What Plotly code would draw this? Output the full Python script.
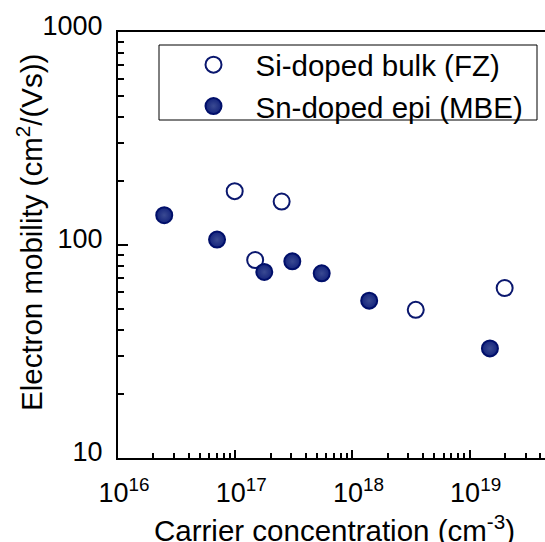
import plotly.graph_objects as go

# Data
si_bulk_conc = [9.9e16, 2.49e17, 1.48e17, 3.47e18, 1.99e19]
si_bulk_mob = [179, 160, 85, 49.6, 62.8]
sn_epi_conc = [2.48e16, 7.0e16, 1.77e17, 3.07e17, 5.47e17, 1.39e18, 1.49e19]
sn_epi_mob = [138, 106, 74.7, 83.8, 73.6, 54.8, 32.7]

x_major = [1e16, 1e17, 1e18, 1e19]
x_major_text = ["10<sup>16</sup>", "10<sup>17</sup>", "10<sup>18</sup>", "10<sup>19</sup>"]
y_major = [10, 100, 1000]
y_major_text = ["10", "100", "1000"]

x_minor = [float(k) * 10.0 ** e for e in range(16, 20) for k in range(2, 10)]
y_minor = [float(k) * 10.0 ** e for e in range(1, 3) for k in range(2, 10)]

FONT = "Liberation Sans, Arial, Helvetica, sans-serif"
NAVY = "#0a176e"

fig = go.Figure()
fig.add_trace(go.Scatter(
    x=si_bulk_conc, y=si_bulk_mob, mode="markers", name="Si-doped bulk (FZ)",
    marker=dict(size=16, color="white", line=dict(color=NAVY, width=2)),
))
fig.add_trace(go.Scatter(
    x=sn_epi_conc, y=sn_epi_mob, mode="markers", name="Sn-doped epi (MBE)",
    marker=dict(size=16, color="#14247c", line=dict(color="#000f6a", width=2),
                gradient=dict(type="radial", color="#3a4a92")),
))

W, H = 545, 542
L, R, T, B = 118, 0, 32, 84
PW, PH = W - L - R, H - T - B


def px_x(px):
    return (px - L) / PW


def px_y(py):
    return (H - B - py) / PH


fig.update_layout(
    width=W, height=H,
    margin=dict(l=L, r=R, t=T, b=B),
    paper_bgcolor="white", plot_bgcolor="white",
    font=dict(family=FONT, size=27, color="black"),
    showlegend=True,
    legend=dict(
        x=px_x(171.5), y=px_y(39), xanchor="left", yanchor="top",
        bgcolor="rgba(0,0,0,0)", borderwidth=0,
        font=dict(family=FONT, size=29.5, color="black"),
        itemwidth=74,
    ),
    shapes=[
        dict(type="rect", xref="paper", yref="paper",
             x0=px_x(159), x1=px_x(537), y0=px_y(120), y1=px_y(45),
             line=dict(color="black", width=1), fillcolor="white", layer="above"),
    ],
    xaxis=dict(
        type="log", range=[16, 19.643],
        showline=True, linecolor="black", linewidth=2, mirror=True,
        showgrid=False, zeroline=False,
        tickmode="array", tickvals=x_major, ticktext=x_major_text,
        ticks="inside", ticklen=8, tickwidth=1.5, tickcolor="black",
        tickfont=dict(family=FONT, size=27, color="black"),
        ticklabelstandoff=10, ticklabelshift=6,
        minor=dict(tickmode="array", tickvals=x_minor, ticks="inside",
                   ticklen=5, tickwidth=1.5, tickcolor="black", showgrid=False),
    ),
    yaxis=dict(
        type="log", range=[1, 3],
        showline=True, linecolor="black", linewidth=2, mirror=False,
        showgrid=False, zeroline=False,
        tickmode="array", tickvals=y_major, ticktext=y_major_text,
        ticks="inside", ticklen=10, tickwidth=1.5, tickcolor="black",
        tickfont=dict(family=FONT, size=27, color="black"),
        ticklabelstandoff=8, ticklabelshift=-6,
        minor=dict(tickmode="array", tickvals=y_minor, ticks="inside",
                   ticklen=6, tickwidth=1.5, tickcolor="black", showgrid=False),
    ),
    annotations=[
        dict(text="Carrier concentration (cm<sup>-3</sup>)", xref="paper", yref="paper",
             x=px_x(334.5), y=px_y(528), xanchor="center", yanchor="middle", showarrow=False,
             font=dict(family=FONT, size=29.5, color="black")),
        dict(text="Electron mobility (cm<sup>2</sup>/(Vs))", xref="paper", yref="paper",
             x=px_x(29), y=px_y(233), xanchor="center", yanchor="middle", showarrow=False,
             textangle=-90, font=dict(family=FONT, size=29.5, color="black")),
    ],
)

fig.write_html("out.html")
